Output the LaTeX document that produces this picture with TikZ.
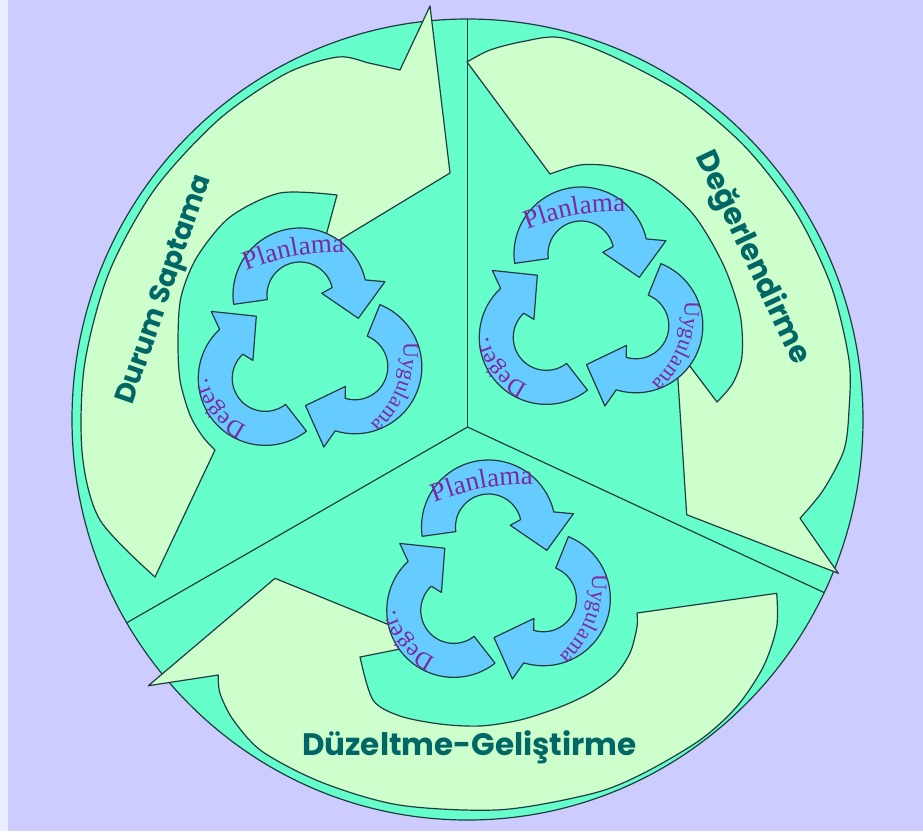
\documentclass[tikz,border=0pt]{standalone}
\usepackage{fontspec}
\usepackage{xcolor}
\usepackage{tikz}
\usetikzlibrary{decorations.text}
\setmainfont{Liberation Serif}
\newfontfamily\phasefont{Poppins}
\definecolor{lavender}{HTML}{CCCCFF}
\definecolor{paleside}{HTML}{E8EEFF}
\definecolor{aqua}{HTML}{66FFCC}
\definecolor{mint}{HTML}{CCFFCC}
\definecolor{sky}{HTML}{66CCFF}
\definecolor{outline}{HTML}{1F3D40}
\definecolor{tealink}{HTML}{006666}
\definecolor{purpleink}{HTML}{7A2A9E}

\begin{document}
\begin{tikzpicture}[x=1pt, y=1pt, line join=round,
    every node/.style={inner sep=0pt},
    disc/.style={draw=outline, fill=aqua, line width=1.2pt},
    divider/.style={draw=outline, line width=1.2pt},
    phasearrow/.style={draw=outline, fill=mint, line width=1.2pt},
    cyclearrow/.style={draw=outline, fill=sky, line width=1.2pt},
    phase/.style={font=\phasefont\bfseries\fontsize{28}{28}\selectfont, text=tealink},
    steptext/.style={decorate, decoration={text along path, text align=center, text color=purpleink, text={#1}}}]
    \useasboundingbox (0,0) rectangle (923,-831);
    \fill[lavender] (0,0) rectangle (923,-831);
    \fill[paleside] (0,0) rectangle (8,-831);
    \draw[disc] (467.5,-419.5) ellipse [x radius=395.5, y radius=400.5];
    \coordinate (hub) at (467.5,-427);
    \coordinate (topend) at (467.5,-19);
    \coordinate (leftend) at (126.7,-622.8);
    \coordinate (rightend) at (824.2,-592.6);
    \draw[divider] (hub) -- (topend);
    \draw[divider] (hub) -- (leftend);
    \draw[divider] (hub) -- (rightend);
    \draw[phasearrow] plot[smooth] coordinates {(155,-577) (100,-520) (82.2,-453.6) (84.5,-365) (108.9,-272.8) (154.6,-189.3) (218.9,-119.4) (285.9,-73.6) (338,-57) (370,-63.3) (400,-70)}
        -- (430,-6) -- (450,-173) -- (336,-242) -- (324,-243)
        -- plot[smooth] coordinates {(337,-195) (280,-193) (230,-217) (197,-257) (181,-297) (178,-340) (180,-380) (190,-415) (203,-437) (215,-450)} -- cycle;
    \draw[phasearrow] plot[smooth] coordinates {(467,-62) (490,-50) (523,-41.5) (560,-37.5) (612.4,-56.3) (683.8,-94.8) (745.7,-147.4) (795.5,-211.9) (831,-285.5) (849,-360) (849,-410) (844,-450) (823.3,-490) (800,-518.3)}
        -- (838.3,-573.3) -- (686.7,-514.7) -- (677,-365) -- (680,-353)
        -- plot[smooth] coordinates {(717,-402) (733,-383) (742,-356) (740,-314) (723,-264) (693,-214) (653,-180) (613,-166.5) (580,-165) (550,-174)} -- cycle;
    \draw[phasearrow] plot[smooth] coordinates {(776.7,-593.3) (776.7,-626.7) (763.3,-666.7) (736.7,-706.7) (700,-740) (643.3,-773.3) (593.3,-793.3) (501.2,-809.7) (400.3,-805.2) (322.6,-782.7) (262.5,-751.7) (233.3,-720) (220,-693.3) (218.3,-675)}
        -- (148.3,-685.7) -- (275,-578.3) -- (392,-626) -- (405,-648)
        -- plot[smooth] coordinates {(360,-657) (373,-700) (400,-716) (440,-724) (480,-726) (520,-720) (560,-707) (590,-693) (615,-675) (630,-653) (637,-627) (637,-613)} -- cycle;
    \foreach \sx/\sy in {306.7/-346.7, 587.7/-305.7, 495.2/-578.7} {
        \begin{scope}[shift={(\sx,\sy)}]
            \foreach \r in {0,-120,120}
                \draw[cyclearrow, rotate=\r, shift={(-6.7,51.7)}] (188:67) arc[start angle=188, end angle=13, radius=67] -- (8.9:86) -- (-21.8:62.8) -- (4.5:21.8) -- (13:33) arc[start angle=13, end angle=188, radius=33] -- cycle;
            \path[steptext={|\fontsize{27}{27}\selectfont|Planlama}] (-70,72) to[bend left=12] (48,94);
            \path[steptext={|\fontsize{22}{22}\selectfont|Uygulama}] (96,14) to[bend left=28] (57,-84);
            \path[steptext={|\fontsize{24}{24}\selectfont|Değer.}] (-50,-83) to[bend left=32] (-102,-21);
        \end{scope}
    }
    \node[phase, rotate=71] (durum) at (165.5,-290) {Durum Saptama};
    \node[phase, rotate=-64.7, font=\phasefont\bfseries\fontsize{30}{30}\selectfont] (degerlendirme) at (752,-258) {Değerlendirme};
    \node[phase, font=\phasefont\bfseries\fontsize{31}{31}\selectfont] (duzeltme) at (469.5,-747) {Düzeltme-Geliştirme};
\end{tikzpicture}
\end{document}
